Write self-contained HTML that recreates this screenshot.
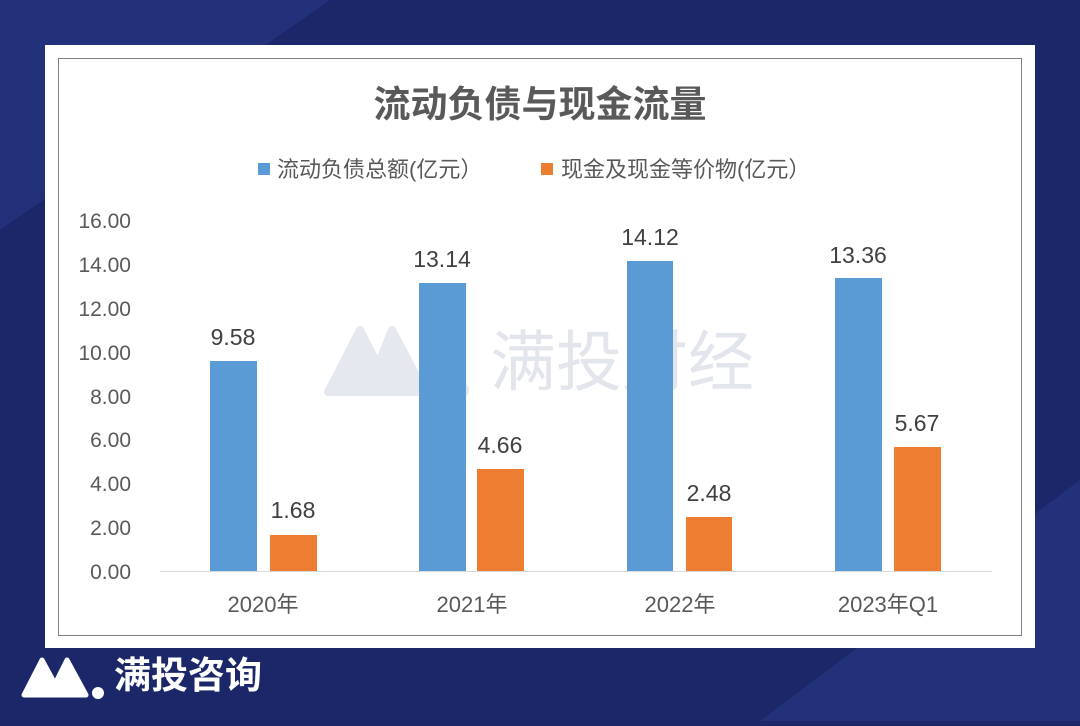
<!DOCTYPE html>
<html><head><meta charset="utf-8"><style>
html,body{margin:0;padding:0;}
body{width:1080px;height:721px;overflow:hidden;background:#1b2768;font-family:"Liberation Sans","Noto Sans CJK SC",sans-serif;}
</style></head><body>
<svg width="1080" height="721" viewBox="0 0 1080 721" xmlns="http://www.w3.org/2000/svg" font-family="Liberation Sans, Noto Sans CJK SC, sans-serif">
<rect width="1080" height="721" fill="#1b2768"/>
<polygon points="0,0 330,0 0,230" fill="#22317a"/>
<polygon points="760,721 1080,721 1080,480" fill="#22317a"/>
<rect x="45" y="45" width="990" height="603" fill="#ffffff"/>
<rect x="58.5" y="58.5" width="963" height="577" fill="#ffffff" stroke="#7f7f7f" stroke-width="1"/>
<text x="540" y="117" text-anchor="middle" font-size="37" font-weight="bold" fill="#595959" font-family="Noto Sans CJK SC, sans-serif">流动负债与现金流量</text>
<rect x="258" y="163" width="12" height="12" fill="#5b9bd5"/>
<text x="277" y="177" font-size="22" fill="#595959">流动负债总额(亿元）</text>
<rect x="541" y="163" width="12" height="12" fill="#ed7d31"/>
<text x="561" y="177" font-size="22" fill="#595959">现金及现金等价物(亿元）</text>
<g opacity="0.9">
<path d="M328,392 L360,330 L378,365 L392,330 L425,392 Z" fill="#e4e6ee" stroke="#e4e6ee" stroke-width="8" stroke-linejoin="round"/>
<circle cx="460" cy="390" r="9" fill="#e4e6ee"/>
<text x="490" y="385" font-size="66" fill="#e1e3ea" font-family="Noto Sans CJK SC, sans-serif">满投财经</text>
</g>
<line x1="160" y1="571.5" x2="992" y2="571.5" stroke="#d9d9d9" stroke-width="1"/>
<g font-size="21" fill="#595959" text-anchor="end">
<text x="131" y="579">0.00</text>
<text x="131" y="535">2.00</text>
<text x="131" y="491">4.00</text>
<text x="131" y="447">6.00</text>
<text x="131" y="404">8.00</text>
<text x="131" y="360">10.00</text>
<text x="131" y="316">12.00</text>
<text x="131" y="272">14.00</text>
<text x="131" y="228">16.00</text>
</g>
<g fill="#5b9bd5">
<rect x="210" y="361" width="47" height="210"/>
<rect x="419" y="283" width="47" height="288"/>
<rect x="627" y="261" width="46" height="310"/>
<rect x="835" y="278" width="47" height="293"/>
</g>
<g fill="#ed7d31">
<rect x="270" y="535" width="47" height="36"/>
<rect x="477" y="469" width="47" height="102"/>
<rect x="686" y="517" width="46" height="54"/>
<rect x="894" y="447" width="47" height="124"/>
</g>
<g font-size="23" fill="#404040" text-anchor="middle">
<text x="233" y="345">9.58</text>
<text x="442" y="267">13.14</text>
<text x="650" y="245">14.12</text>
<text x="858" y="263">13.36</text>
<text x="293" y="518">1.68</text>
<text x="500" y="453">4.66</text>
<text x="709" y="501">2.48</text>
<text x="917" y="431">5.67</text>
</g>
<g font-size="22" fill="#595959" text-anchor="middle">
<text x="263" y="612">2020年</text>
<text x="472" y="612">2021年</text>
<text x="680" y="612">2022年</text>
<text x="888" y="612">2023年Q1</text>
</g>
<path d="M24,695 L42,660 L55,684 L67,660 L86,695 Z" fill="#ffffff" stroke="#ffffff" stroke-width="5" stroke-linejoin="round"/>
<circle cx="98" cy="693" r="6" fill="#ffffff"/>
<text x="114" y="688" font-size="37" font-weight="bold" fill="#ffffff" font-family="Noto Sans CJK SC, sans-serif">满投咨询</text>
</svg>
</body></html>
